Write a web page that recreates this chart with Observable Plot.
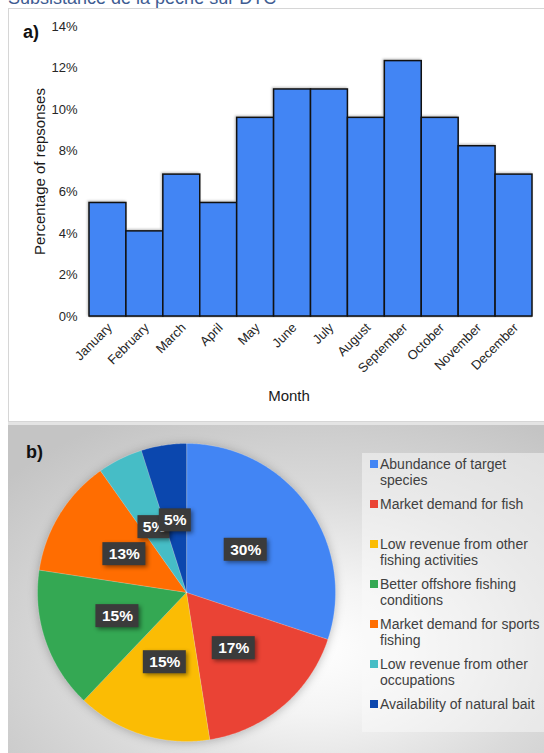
<!DOCTYPE html>
<html><head><meta charset="utf-8">
<script src="https://cdn.jsdelivr.net/npm/d3@7"></script>
<script src="https://cdn.jsdelivr.net/npm/@observablehq/plot@0.6"></script>
<style>
body{margin:0;background:#fff;font-family:"Liberation Sans",Arial,sans-serif;}
#page{position:relative;width:544px;height:753px;overflow:hidden;background:#fff;}
#toptext{position:absolute;left:8px;top:-11px;font-size:18px;line-height:18px;color:#3e5c92;white-space:nowrap;}
#panelA{position:absolute;left:8px;top:8px;width:560px;height:414px;border:1px solid #d6d6d6;background:#fff;box-sizing:border-box;}
#gap{position:absolute;left:8px;top:422px;width:560px;height:3px;background:#e4e4e4;}
#panelB{position:absolute;left:8px;top:425px;width:536px;height:328px;
  background:radial-gradient(ellipse 75% 80% at 57% 68%, #ffffff 0%, #f4f4f4 25%, #dadada 60%, #c4c4c4 100%);}
.lab{position:absolute;font-weight:bold;font-size:18px;line-height:18px;color:#111;}
#chartA,#chartB{position:absolute;left:0;}
#chartA{top:0;}
#chartB{top:425px;}
#legend{position:absolute;left:362px;top:453px;width:182px;height:279px;background:rgba(250,250,250,0.5);padding-top:3px;box-sizing:border-box;}
.item{position:relative;height:40px;}
.sw{position:absolute;left:8px;top:4px;width:8px;height:8px;}
.tx{position:absolute;left:18px;top:0;width:164px;line-height:16px;font-size:14px;color:#404040;}
</style></head><body>
<div id="page">
  <div id="toptext">Subsistance de la pêche sur DTC</div>
  <div id="panelA"></div>
  <div id="gap"></div>
  <div id="panelB"></div>
  <div id="chartA"></div>
  <div id="chartB"></div>
  <div id="legend"></div>
  <div class="lab" style="left:23px;top:23px;">a)</div>
  <div class="lab" style="left:26px;top:443px;">b)</div>
</div>
<script>
// ---- Panel a data ----
const months = ["January","February","March","April","May","June","July","August","September","October","November","December"];
const monthShare = [5.48, 4.11, 6.85, 5.48, 9.59, 10.96, 10.96, 9.59, 12.33, 9.59, 8.22, 6.85];
const yTicks = [0, 2, 4, 6, 8, 10, 12, 14];

// ---- Panel b data ----
const reasons = ["Abundance of target species","Market demand for fish","Low revenue from other fishing activities","Better offshore fishing conditions","Market demand for sports fishing","Low revenue from other occupations","Availability of natural bait"];
const reasonShare = [30.1, 17.4, 14.6, 15.3, 12.8, 4.9, 4.9];
const reasonColors = ["#4285F4","#EA4335","#FBBC04","#34A853","#FF6D01","#46BDC6","#0B47AE"];

const font = '"Liberation Sans", Arial, sans-serif';

// ---- Bar chart ----
const bars = months.map((m, i) => ({month: m, value: monthShare[i]}));
const chartA = Plot.plot({
  width: 544, height: 420,
  marginLeft: 89, marginRight: 12, marginTop: 26, marginBottom: 104,
  style: {fontFamily: font, fontSize: "13px", color: "#262626", background: "transparent", overflow: "visible"},
  x: {domain: months, padding: 0, round: false, label: null},
  y: {domain: [0, 14], label: null},
  marks: [
    Plot.axisY({ticks: yTicks, tickSize: 0, tickPadding: 12, tickFormat: d => d + "%", fontSize: 13}),
    Plot.axisX({tickSize: 0, tickRotate: -45, tickPadding: 9, dx: 2, fontSize: 13}),
    Plot.ruleY([0], {stroke: "#a6a6a6", strokeWidth: 1.5}),
    Plot.barY(bars, {x: "month", y: "value", fill: "#4285F4", stroke: "#111", strokeWidth: 1.5,
      imageFilter: "drop-shadow(-1px -1px 1px rgba(0,0,0,0.25))"}),
    Plot.text(["Percentage of repsonses"], {frameAnchor: "left", textAnchor: "middle", dx: -49, rotate: -90, fontSize: 15, fill: "#1a1a1a"}),
    Plot.text(["Month"], {frameAnchor: "bottom", textAnchor: "middle", dy: 84, dx: -22, fontSize: 15, fill: "#1a1a1a"})
  ]
});
document.getElementById("chartA").appendChild(chartA);

// ---- Pie chart ----
const slices = reasons.map((r, i) => ({reason: r, value: reasonShare[i]}));
const arcs = d3.pie().sort(null).value(d => d.value)(slices);
const wedgePts = arcs.flatMap(a => {
  const pts = [{reason: a.data.reason, x: 0, y: 0}];
  const n = Math.max(2, Math.ceil((a.endAngle - a.startAngle) / 0.01));
  for (let k = 0; k <= n; k++) {
    const t = a.startAngle + (a.endAngle - a.startAngle) * k / n;
    pts.push({reason: a.data.reason, x: Math.sin(t), y: Math.cos(t)});
  }
  return pts;
});
const R = 149; // pixel radius, used only to size label boxes
const labels = arcs.map(a => {
  const m = (a.startAngle + a.endAngle) / 2;
  const text = Math.round(a.data.value) + "%";
  return {reason: a.data.reason, text, x: 0.49 * Math.sin(m), y: 0.49 * Math.cos(m),
          hw: (5 + 5.5 * text.length) / R, hh: 11.5 / R};
});
const labelMarks = labels.flatMap(d => [
  Plot.rect([d], {x1: v => v.x - v.hw, x2: v => v.x + v.hw, y1: v => v.y - v.hh, y2: v => v.y + v.hh,
    fill: "#3b3b3b", imageFilter: "drop-shadow(2px 2px 2px rgba(0,0,0,0.45))"}),
  Plot.text([d], {x: "x", y: "y", text: "text", fill: "#fff", fontWeight: "bold", fontSize: 15.5})
]);
const chartB = Plot.plot({
  width: 544, height: 328,
  marginLeft: 37, marginRight: 209, marginTop: 18, marginBottom: 12,
  style: {fontFamily: font, background: "transparent", overflow: "visible"},
  x: {domain: [-1, 1], axis: null},
  y: {domain: [-1, 1], axis: null},
  color: {domain: reasons, range: reasonColors},
  marks: [
    Plot.line(wedgePts, {x: "x", y: "y", z: "reason", fill: "reason", stroke: "#fff", strokeOpacity: 0.35,
      strokeWidth: 0.6, curve: "linear-closed", imageFilter: "drop-shadow(0px 1px 5px rgba(0,0,0,0.25))"}),
    ...labelMarks
  ]
});
document.getElementById("chartB").appendChild(chartB);

// ---- Legend ----
const leg = document.getElementById("legend");
reasons.forEach((r, i) => {
  const item = document.createElement("div");
  item.className = "item";
  const sw = document.createElement("span");
  sw.className = "sw"; sw.style.background = reasonColors[i];
  const tx = document.createElement("span");
  tx.className = "tx"; tx.textContent = r;
  item.appendChild(sw); item.appendChild(tx);
  leg.appendChild(item);
});
</script>
</body></html>
